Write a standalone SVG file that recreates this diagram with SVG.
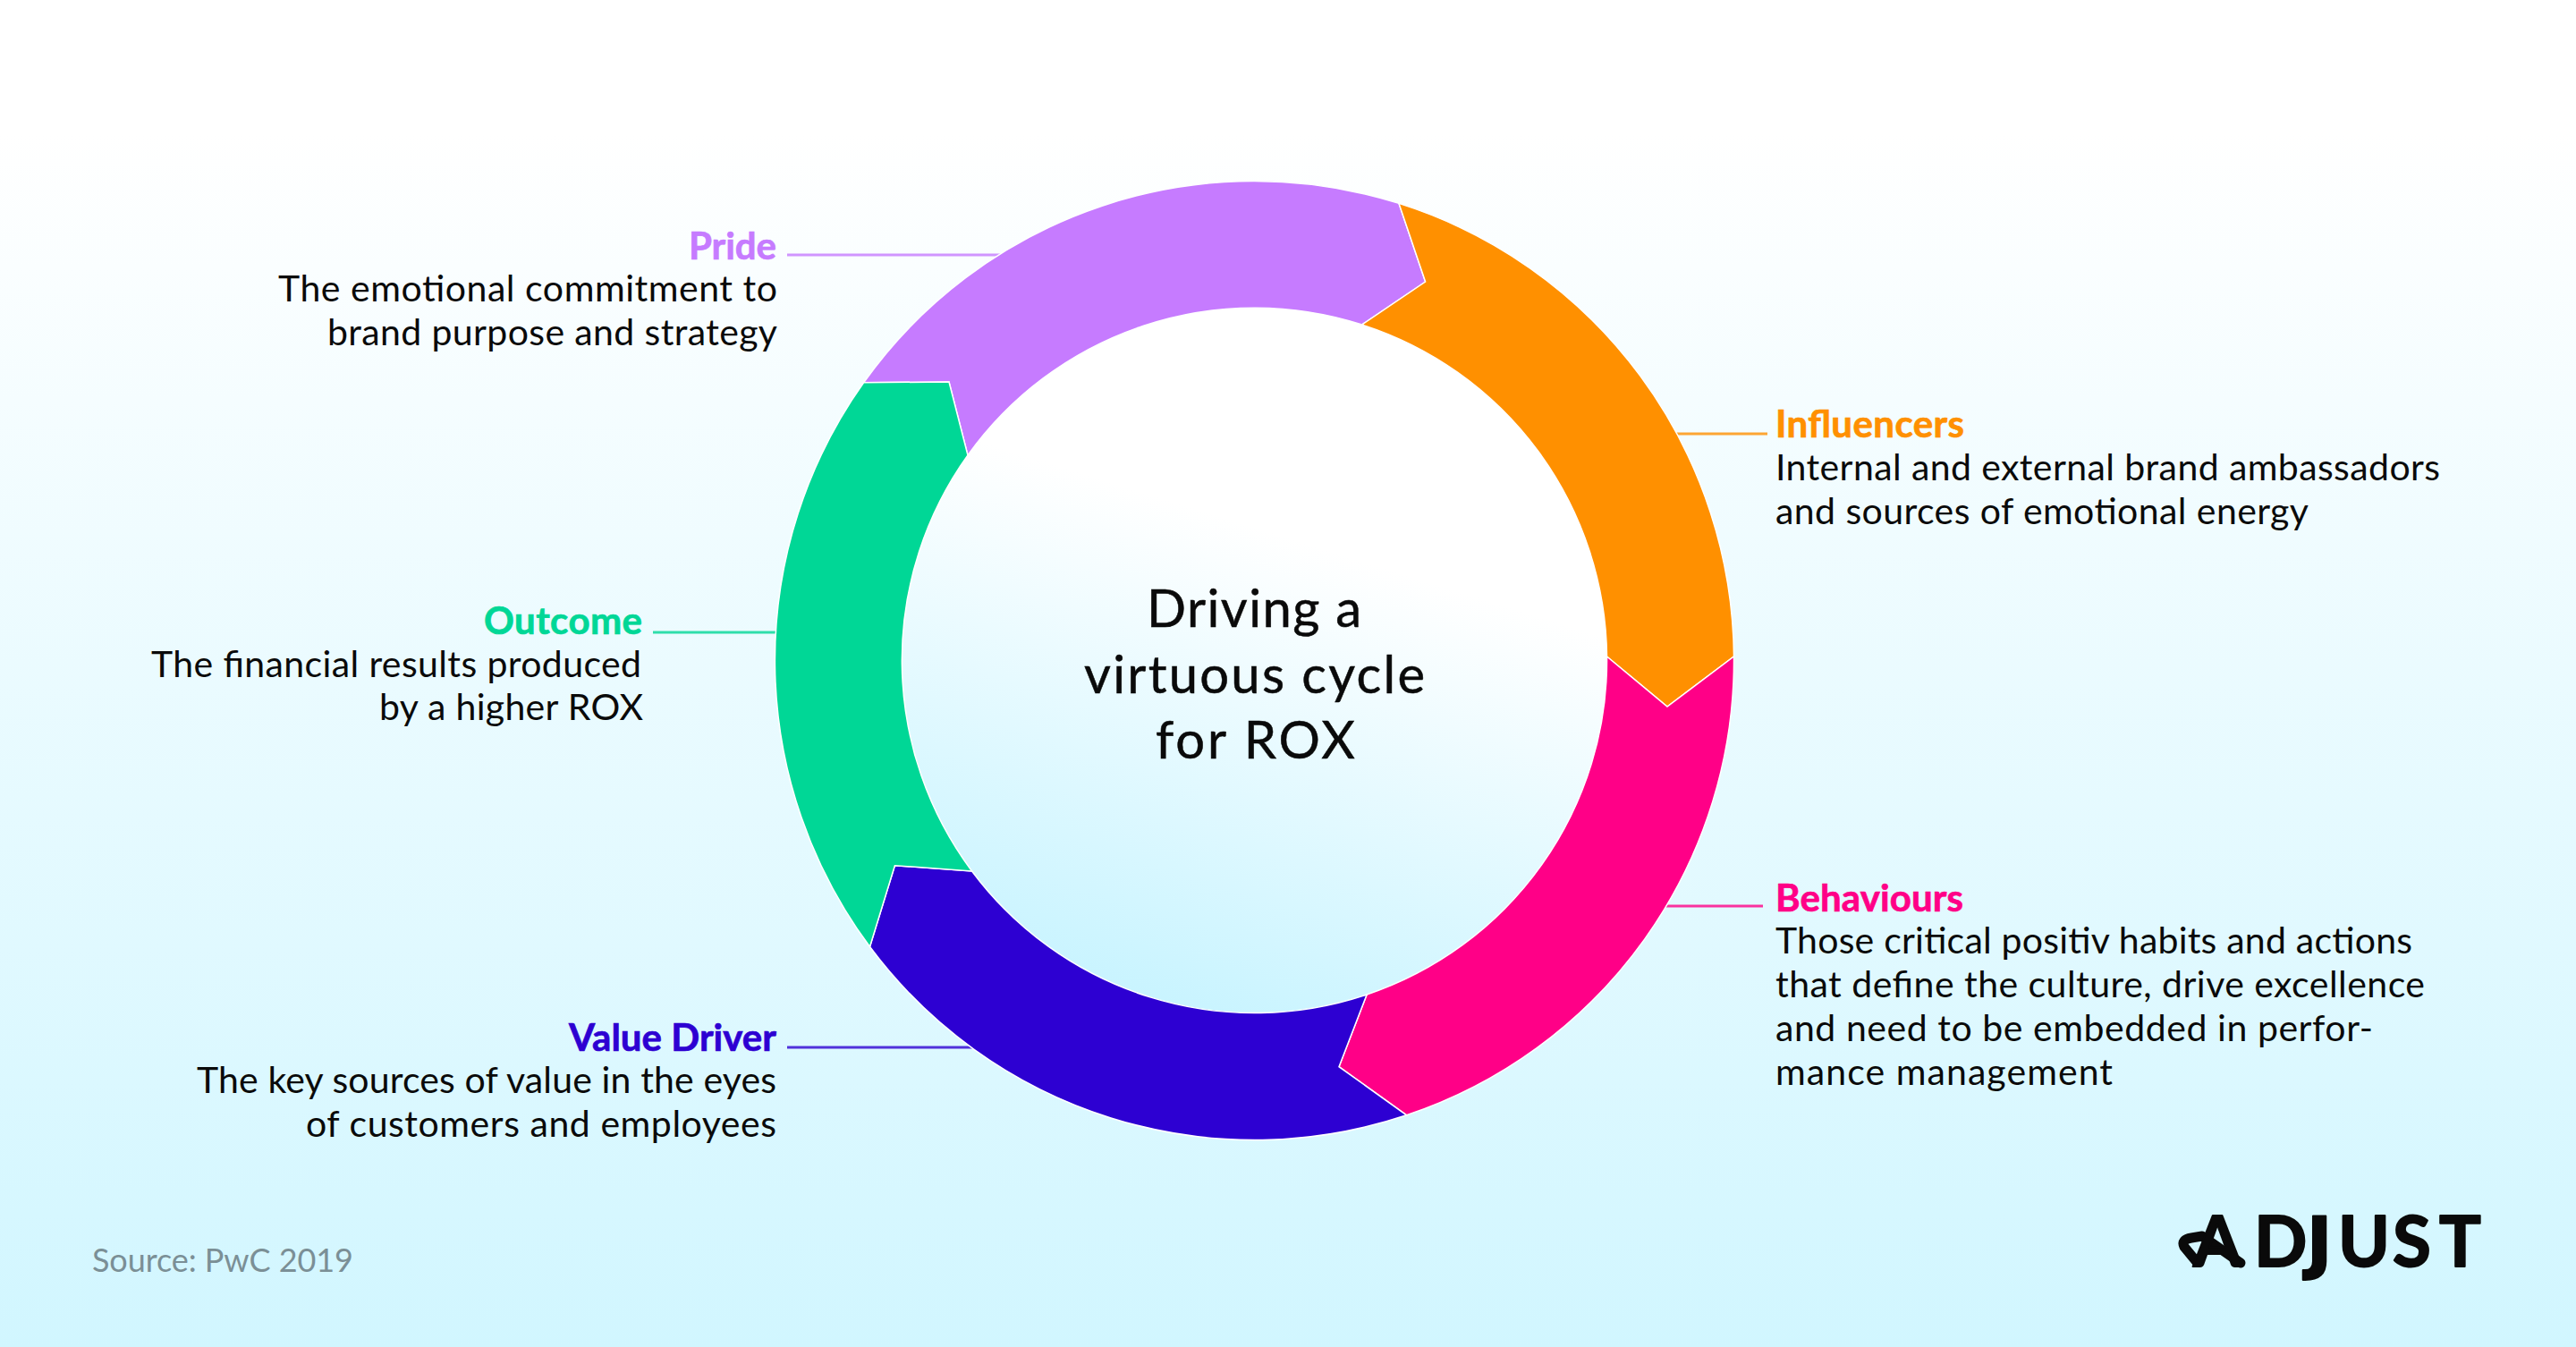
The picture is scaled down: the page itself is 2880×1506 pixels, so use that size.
<svg xmlns="http://www.w3.org/2000/svg" width="2880" height="1506" viewBox="0 0 2880 1506">
<defs>
<linearGradient id="bg" x1="0" y1="0" x2="0" y2="1"><stop offset="0" stop-color="#ffffff"/><stop offset="0.1" stop-color="#ffffff"/><stop offset="1" stop-color="#d1f6ff"/></linearGradient>
<linearGradient id="inner" gradientUnits="userSpaceOnUse" x1="1500" y1="620" x2="1340" y2="1130"><stop offset="0" stop-color="#ffffff"/><stop offset="1" stop-color="#c9f4ff"/></linearGradient>
</defs>
<style>
text{font-family:"Lato","Noto Sans",sans-serif;}
.b{font-size:41px;fill:#0a0a0a}
.t{font-size:42px;font-weight:700;stroke-width:.7}
.seg{stroke:#ffffff;stroke-width:1.5;stroke-linejoin:miter}
.c{font-size:58px;fill:#0a0a0a;stroke:#0a0a0a;stroke-width:.5}
.ln{stroke-width:3;fill:none;stroke-opacity:.8}
.logo{font-size:78px;font-weight:700;fill:#0a0a0a;stroke:#0a0a0a;stroke-width:2;stroke-linejoin:round}
</style>
<rect width="2880" height="1506" fill="url(#bg)"/>
<circle cx="1402.5" cy="738.5" r="400" fill="url(#inner)"/>
<g id="connectors">
<line class="ln" x1="880" y1="285" x2="1125" y2="285" stroke="#c67bff"/>
<line class="ln" x1="1872" y1="485" x2="1976" y2="485" stroke="#ff9000"/>
<line class="ln" x1="730" y1="707" x2="875" y2="707" stroke="#00d796"/>
<line class="ln" x1="1860" y1="1013" x2="1971" y2="1013" stroke="#ff0087"/>
<line class="ln" x1="880" y1="1171" x2="1095" y2="1171" stroke="#2d00d2"/>
</g>
<g id="pride"><path class="seg" d="M965.6 427.8A536 536 0 0 1 1564 227.4L1593.6 315L1522.7 363A394 394 0 0 0 1082 509L1061 427Z" fill="#c67bff"/>
<text class="t" x="770" y="290" fill="#c67bff" stroke="#c67bff" textLength="98">Pride</text>
<text class="b" x="311" y="337" textLength="558">The emotional commitment to</text>
<text class="b" x="366" y="386" textLength="503">brand purpose and strategy</text></g>
<g id="influencers"><path class="seg" d="M1564 227.4A536 536 0 0 1 1938.5 734L1864 790L1796.5 734A394 394 0 0 0 1522.7 363L1593.6 315Z" fill="#ff9000"/>
<text class="t" x="1985" y="489" fill="#ff9000" stroke="#ff9000" textLength="211">Influencers</text>
<text class="b" x="1985" y="537" textLength="743">Internal and external brand ambassadors</text>
<text class="b" x="1985" y="586" textLength="596">and sources of emotional energy</text></g>
<g id="behaviours"><path class="seg" d="M1938.5 734A536 536 0 0 1 1572.6 1246.8L1497 1192.7L1528.1 1112A394 394 0 0 0 1796.5 734L1864 790Z" fill="#ff0087"/>
<text class="t" x="1985" y="1019" fill="#ff0087" stroke="#ff0087" textLength="210">Behaviours</text>
<text class="b" x="1985" y="1066" textLength="712">Those critical positiv habits and actions</text>
<text class="b" x="1985" y="1115" textLength="726">that define the culture, drive excellence</text>
<text class="b" x="1985" y="1164" textLength="668">and need to be embedded in perfor-</text>
<text class="b" x="1985" y="1213" textLength="377">mance management</text></g>
<g id="value-driver"><path class="seg" d="M1572.6 1246.8A536 536 0 0 1 972.5 1058.5L1000.4 967.7L1086.6 974A394 394 0 0 0 1528.1 1112L1497 1192.7Z" fill="#2d00d2"/>
<text class="t" x="636" y="1175" fill="#2d00d2" stroke="#2d00d2" textLength="232">Value Driver</text>
<text class="b" x="220" y="1222" textLength="648">The key sources of value in the eyes</text>
<text class="b" x="342" y="1271" textLength="526">of customers and employees</text></g>
<g id="outcome"><path class="seg" d="M972.5 1058.5A536 536 0 0 1 965.6 427.8L1061 427L1082 509A394 394 0 0 0 1086.6 974L1000.4 967.7Z" fill="#00d796"/>
<text class="t" x="541" y="709" fill="#00d796" stroke="#00d796" textLength="177">Outcome</text>
<text class="b" x="169" y="757" textLength="548">The financial results produced</text>
<text class="b" x="424" y="805" textLength="295">by a higher ROX</text></g>
<g id="center"><text class="c" x="1282" y="701" textLength="240">Driving a</text>
<text class="c" x="1212" y="775" textLength="381">virtuous cycle</text>
<text class="c" x="1292" y="848" textLength="223">for ROX</text></g>
<text x="103" y="1422" font-size="36" fill="#7b8f96" textLength="292">Source: PwC 2019</text>
<g id="logo"><path d="M2456 1411L2442 1394Q2438 1386 2450 1384L2462 1382L2505 1412" fill="none" stroke="#0a0a0a" stroke-width="11" stroke-linejoin="round" stroke-linecap="round"/>
<text class="logo" y="1416"><tspan x="2452">A</tspan><tspan x="2520">D</tspan><tspan x="2579" font-family="DejaVu Sans" font-size="76">J</tspan><tspan x="2614">U</tspan><tspan x="2675">S</tspan><tspan x="2727">T</tspan></text></g>
</svg>
